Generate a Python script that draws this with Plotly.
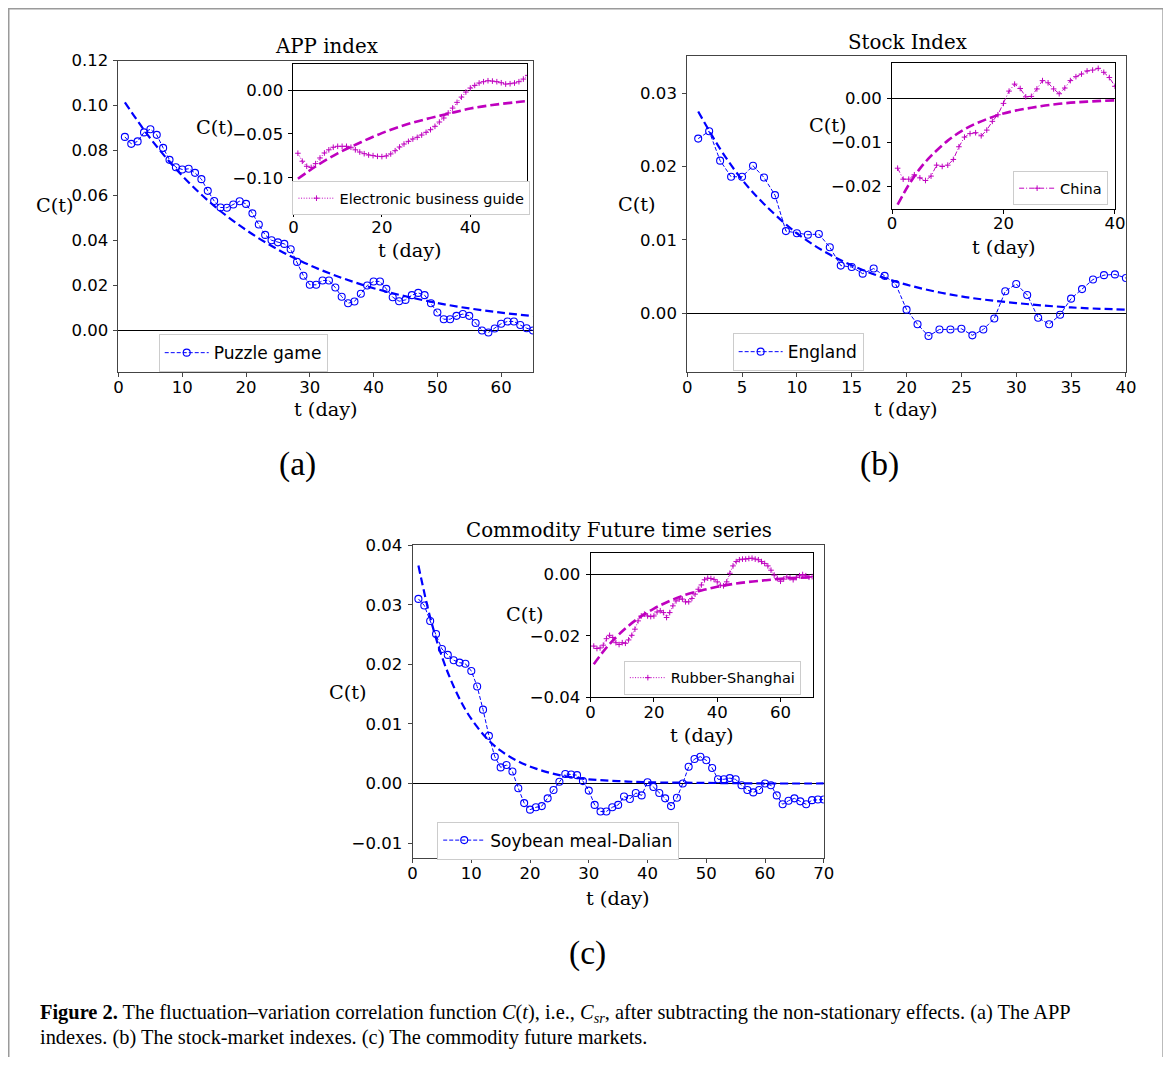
import plotly.graph_objects as go

# ---------------- data ----------------
t_a = list(range(1, 66))
puzzle_game = [0.0861, 0.0830, 0.0841, 0.0881, 0.0895, 0.0870, 0.0812, 0.0759, 0.0726, 0.0716,
               0.0719, 0.0701, 0.0673, 0.0621, 0.0576, 0.0547, 0.0546, 0.0560, 0.0575, 0.0563,
               0.0521, 0.0471, 0.0425, 0.0401, 0.0392, 0.0385, 0.0361, 0.0305, 0.0243, 0.0203,
               0.0203, 0.0222, 0.0222, 0.0191, 0.0150, 0.0121, 0.0129, 0.0163, 0.0200, 0.0218,
               0.0218, 0.0185, 0.0148, 0.0130, 0.0136, 0.0157, 0.0167, 0.0157, 0.0121, 0.0080,
               0.0050, 0.0050, 0.0065, 0.0073, 0.0065, 0.0033, 0.0000, -0.0009, 0.0009, 0.0030,
               0.0040, 0.0040, 0.0024, 0.0010, 0.0000]
fit_a_t = [1, 5, 10, 15, 20, 25, 30, 35, 40, 45, 50, 55, 60, 65]
fit_a = [0.1015, 0.0854, 0.0688, 0.0554, 0.0447, 0.0360, 0.0290, 0.0234, 0.0188, 0.0152,
         0.0122, 0.0098, 0.0079, 0.0064]

t_a_in = list(range(1, 54))
e_business = [-0.0719, -0.0810, -0.0867, -0.0880, -0.0837, -0.0773, -0.0716, -0.0680, -0.0651, -0.0640,
              -0.0640, -0.0640, -0.0651, -0.0680, -0.0705, -0.0724, -0.0739, -0.0746, -0.0754, -0.0757,
              -0.0750, -0.0727, -0.0690, -0.0648, -0.0614, -0.0584, -0.0557, -0.0538, -0.0512, -0.0481,
              -0.0451, -0.0413, -0.0364, -0.0318, -0.0261, -0.0205, -0.0140, -0.0080, -0.0023, 0.0023,
              0.0053, 0.0080, 0.0095, 0.0106, 0.0102, 0.0095, 0.0083, 0.0068, 0.0072, 0.0080,
              0.0095, 0.0125, 0.0167]
fit_a_in_t = [1, 5, 10, 15, 20, 25, 30, 35, 40, 45, 50, 53]
fit_a_in = [-0.101, -0.087, -0.072, -0.060, -0.049, -0.040, -0.033, -0.027, -0.021, -0.017, -0.014, -0.0125]

t_b = list(range(1, 41))
england = [0.0238, 0.0248, 0.0208, 0.0186, 0.0186, 0.0201, 0.0185, 0.0161, 0.0112, 0.0109,
           0.0107, 0.0108, 0.0090, 0.0065, 0.0063, 0.0054, 0.0061, 0.0051, 0.0040, 0.0005,
           -0.0015, -0.0031, -0.0022, -0.0022, -0.0021, -0.0030, -0.0022, -0.0007, 0.0030, 0.0040,
           0.0025, -0.0006, -0.0015, -0.0002, 0.0020, 0.0033, 0.0046, 0.0052, 0.0053, 0.0048]
fit_b_t = [1, 3, 5, 7, 10, 13, 16, 20, 25, 30, 35, 40]
fit_b = [0.0275, 0.0224, 0.0182, 0.0149, 0.0109, 0.0080, 0.0059, 0.0039, 0.0023, 0.0014, 0.0008, 0.0005]

china = [-0.0159, -0.0184, -0.0184, -0.0174, -0.0181, -0.0187, -0.0177, -0.0152, -0.0155, -0.0152,
         -0.0139, -0.0110, -0.0088, -0.0080, -0.0078, -0.0085, -0.0072, -0.0052, -0.0037, -0.0011,
         0.0017, 0.0033, 0.0023, 0.0004, 0.0005, 0.0022, 0.0041, 0.0036, 0.0022, 0.0011,
         0.0024, 0.0041, 0.0050, 0.0056, 0.0063, 0.0065, 0.0069, 0.0060, 0.0048, 0.0028]
fit_b_in = [-0.0242, -0.0197, -0.0160, -0.0131, -0.0096, -0.0070, -0.0052, -0.0034, -0.0021, -0.0012,
            -0.0007, -0.0004]

t_c = list(range(1, 71))
soybean = [0.0310, 0.0299, 0.0273, 0.0251, 0.0226, 0.0216, 0.0207, 0.0203, 0.0201, 0.0189,
           0.0163, 0.0124, 0.0080, 0.0045, 0.0027, 0.0031, 0.0020, -0.0008, -0.0033, -0.0044,
           -0.0040, -0.0038, -0.0025, -0.0011, 0.0003, 0.0016, 0.0015, 0.0014, 0.0004, -0.0012,
           -0.0036, -0.0047, -0.0047, -0.0040, -0.0036, -0.0022, -0.0026, -0.0016, -0.0020, 0.0002,
           -0.0006, -0.0016, -0.0025, -0.0038, -0.0024, 0.0000, 0.0028, 0.0041, 0.0045, 0.0039,
           0.0026, 0.0007, 0.0007, 0.0009, 0.0007, -0.0003, -0.0011, -0.0015, -0.0011, 0.0000,
           -0.0003, -0.0020, -0.0035, -0.0029, -0.0025, -0.0030, -0.0035, -0.0028, -0.0027, -0.0027]
fit_c_t = [1, 3, 5, 7, 9, 11, 13, 15, 18, 21, 25, 30, 35, 40, 50, 60, 70]
fit_c = [0.0366, 0.0279, 0.0213, 0.0163, 0.0124, 0.0095, 0.0072, 0.0055, 0.0037, 0.0025,
         0.0014, 0.0007, 0.0004, 0.0002, 0.0001, 0.0000, 0.0000]

rubber = [-0.0233, -0.0241, -0.0239, -0.0230, -0.0209, -0.0198, -0.0205, -0.0222, -0.0228, -0.0222,
          -0.0224, -0.0213, -0.0198, -0.0178, -0.0151, -0.0135, -0.0129, -0.0135, -0.0137, -0.0135,
          -0.0122, -0.0118, -0.0124, -0.0140, -0.0124, -0.0102, -0.0086, -0.0080, -0.0080, -0.0089,
          -0.0089, -0.0078, -0.0064, -0.0048, -0.0034, -0.0017, -0.0012, -0.0013, -0.0016, -0.0024,
          -0.0035, -0.0037, -0.0024, 0.0004, 0.0028, 0.0042, 0.0048, 0.0050, 0.0050, 0.0052,
          0.0053, 0.0050, 0.0048, 0.0042, 0.0036, 0.0028, 0.0014, -0.0002, -0.0013, -0.0022,
          -0.0015, -0.0008, -0.0011, -0.0017, -0.0010, -0.0004, 0.0000, -0.0004, -0.0009, -0.0007]
fit_c_in_t = [1, 5, 10, 15, 20, 25, 30, 35, 40, 45, 50, 55, 60, 65, 70]
fit_c_in = [-0.0292, -0.0238, -0.0185, -0.0143, -0.0111, -0.0086, -0.0066, -0.0052, -0.0040, -0.0031,
            -0.0024, -0.0019, -0.0014, -0.0011, -0.0009]

# tick labels
ya_vals = [0.00, 0.02, 0.04, 0.06, 0.08, 0.10, 0.12]
ya_text = ["0.00", "0.02", "0.04", "0.06", "0.08", "0.10", "0.12"]
xa_vals = [0, 10, 20, 30, 40, 50, 60]
ya_in_vals = [-0.10, -0.05, 0.00]
ya_in_text = ["\u22120.10", "\u22120.05", "0.00"]
x_in_vals = [0, 20, 40]
yb_vals = [0.00, 0.01, 0.02, 0.03]
yb_text = ["0.00", "0.01", "0.02", "0.03"]
xb_vals = [0, 5, 10, 15, 20, 25, 30, 35, 40]
yb_in_vals = [-0.02, -0.01, 0.00]
yb_in_text = ["\u22120.02", "\u22120.01", "0.00"]
yc_vals = [-0.01, 0.00, 0.01, 0.02, 0.03, 0.04]
yc_text = ["\u22120.01", "0.00", "0.01", "0.02", "0.03", "0.04"]
xc_vals = [0, 10, 20, 30, 40, 50, 60, 70]
yc_in_vals = [-0.04, -0.02, 0.00]
yc_in_text = ["\u22120.04", "\u22120.02", "0.00"]
xc_in_vals = [0, 20, 40, 60]

# ---------------- layout helpers ----------------
OFF = 8                      # default body margin of the page
W, H = 1171 - 2 * OFF, 1065 - 2 * OFF
# empirical mapping between page pixels and the photographed picture
SX, BX = 0.988, 4.1
SY, BY = 0.983, 7.7
FS = 1.0 / 0.985             # font compensation
BLUE = '#0000ff'
MAG = '#bf00bf'


def fx(p):
    return ((p - BX) / SX - OFF) / W


def fy(p):
    return 1 - ((p - BY) / SY - OFF) / H


def fs(s):
    return s * FS


fig = go.Figure()


def data_main(t, v, name, xa, ya, leg):
    fig.add_trace(go.Scatter(x=t, y=v, name=name, mode='lines+markers', xaxis=xa, yaxis=ya, legend=leg,
                             line=dict(color=BLUE, width=1, dash='4px,2px'),
                             marker=dict(symbol='circle-open', size=7, color=BLUE, line=dict(width=1.1))))


def fit_main(t, v, xa, ya):
    fig.add_trace(go.Scatter(x=t, y=v, mode='lines', xaxis=xa, yaxis=ya, showlegend=False,
                             line=dict(color=BLUE, width=2.2, dash='8px,4px', shape='spline')))


def data_in(t, v, name, xa, ya, leg, dash):
    fig.add_trace(go.Scatter(x=t, y=v, name=name, mode='lines+markers', xaxis=xa, yaxis=ya, legend=leg,
                             line=dict(color=MAG, width=1, dash=dash),
                             marker=dict(symbol='cross-thin', size=4, color=MAG, line=dict(width=1, color=MAG))))


def fit_in(t, v, xa, ya):
    fig.add_trace(go.Scatter(x=t, y=v, mode='lines', xaxis=xa, yaxis=ya, showlegend=False,
                             line=dict(color=MAG, width=2.6, dash='9px,4px', shape='spline')))


data_main(t_a, puzzle_game, 'Puzzle game', 'x', 'y', 'legend')
fit_main(fit_a_t, fit_a, 'x', 'y')
fit_in(fit_a_in_t, fit_a_in, 'x2', 'y2')
data_in(t_a_in, e_business, 'Electronic business guide', 'x2', 'y2', 'legend2', '1px,1.6px')

data_main(t_b, england, 'England', 'x3', 'y3', 'legend3')
fit_main(fit_b_t, fit_b, 'x3', 'y3')
fit_in(fit_b_t, fit_b_in, 'x4', 'y4')
data_in(t_b, china, 'China', 'x4', 'y4', 'legend4', '5px,2px,1px,2px')

data_main(t_c, soybean, 'Soybean meal-Dalian', 'x5', 'y5', 'legend5')
fit_main(fit_c_t, fit_c, 'x5', 'y5')
fit_in(fit_c_in_t, fit_c_in, 'x6', 'y6')
data_in(t_c, rubber, 'Rubber-Shanghai', 'x6', 'y6', 'legend6', '1px,1.6px')


def axis(domain, rng, vals, text, anchor, color, is_y):
    d = dict(domain=domain, range=rng, anchor=anchor, tickvals=vals, ticktext=text,
             showline=True, mirror=True, linecolor=color, linewidth=1,
             ticks='outside', ticklen=4, tickwidth=1, tickcolor=color, showgrid=False,
             tickfont=dict(family='DejaVu Sans', size=fs(16.3), color='black'), fixedrange=True)
    if is_y:
        d.update(zeroline=True, zerolinecolor='black', zerolinewidth=1, ticklabelstandoff=2)
    else:
        d.update(zeroline=False, ticklabelstandoff=-4)
    return d


MAINC = '#444444'
INC = '#000000'

layout = dict(
    width=W, height=H, margin=dict(l=0, r=0, t=0, b=0),
    paper_bgcolor='white', plot_bgcolor='rgba(0,0,0,0)', showlegend=True,
    xaxis=axis([fx(117.7), fx(533)], [0, 65], xa_vals, [str(v) for v in xa_vals], 'y', MAINC, False),
    yaxis=axis([fy(371), fy(59.3)], [-0.0185, 0.12], ya_vals, ya_text, 'x', MAINC, True),
    xaxis2=axis([fx(293), fx(527.3)], [0, 52.9], x_in_vals, [str(v) for v in x_in_vals], 'y2', INC, False),
    yaxis2=axis([fy(211), fy(62.3)], [-0.139, 0.030], ya_in_vals, ya_in_text, 'x2', INC, True),
    xaxis3=axis([fx(687.5), fx(1127)], [0, 40], xb_vals, [str(v) for v in xb_vals], 'y3', MAINC, False),
    yaxis3=axis([fy(371), fy(55)], [-0.0080, 0.0350], yb_vals, yb_text, 'x3', MAINC, True),
    xaxis4=axis([fx(892.7), fx(1116)], [0, 40], x_in_vals, [str(v) for v in x_in_vals], 'y4', INC, False),
    yaxis4=axis([fy(207.3), fy(61.7)], [-0.0251, 0.0081], yb_in_vals, yb_in_text, 'x4', INC, True),
    xaxis5=axis([fx(412.3), fx(824.3)], [0, 70], xc_vals, [str(v) for v in xc_vals], 'y5', MAINC, False),
    yaxis5=axis([fy(858), fy(544.5)], [-0.0126, 0.040], yc_vals, yc_text, 'x5', MAINC, True),
    xaxis6=axis([fx(590.7), fx(813.3)], [0, 70.2], xc_in_vals, [str(v) for v in xc_in_vals], 'y6', INC, False),
    yaxis6=axis([fy(696.7), fy(551.7)], [-0.040, 0.00715], yc_in_vals, yc_in_text, 'x6', INC, True),
)


def leg(x, y, size, iw):
    return dict(x=fx(x), y=fy(y), xanchor='left', yanchor='top', bgcolor='white',
                bordercolor='#cccccc', borderwidth=1, itemwidth=iw, tracegroupgap=0,
                font=dict(family='DejaVu Sans', size=fs(size), color='black'))


layout['legend'] = leg(158, 333, 16.8, 44)
layout['legend2'] = leg(292, 180, 14.3, 36)
layout['legend3'] = leg(733, 332, 16.8, 44)
layout['legend4'] = leg(1014, 170, 14.3, 36)
layout['legend5'] = leg(437, 821, 16.8, 42)
layout['legend6'] = leg(624, 660, 14.3, 36)

fig.update_layout(**layout)

SERIF = 'DejaVu Serif'


def text(x, y, s, size=19, family=SERIF, xanchor='center'):
    fig.add_annotation(x=fx(x), y=fy(y), xref='paper', yref='paper', text=s, showarrow=False,
                       xanchor=xanchor, yanchor='middle', font=dict(family=family, size=fs(size), color='black'))


# titles
text(326, 45, 'APP index', 19.5)
text(908, 41, 'Stock Index', 19.5)
text(619, 530, 'Commodity Future time series', 19.5)
# axis labels
text(54, 204, 'C(t)')
text(326, 409, 't (day)')
text(214, 126, 'C(t)')
text(410, 249, 't (day)')
text(829, 124, 'C(t)')
text(1005, 246, 't (day)')
text(637, 203, 'C(t)')
text(907, 409, 't (day)')
text(348, 692, 'C(t)')
text(618, 898, 't (day)')
text(525, 614, 'C(t)')
text(702, 735, 't (day)')
# panel letters
text(297, 463, '(a)', 33, 'Liberation Serif')
text(880, 463, '(b)', 33, 'Liberation Serif')
text(588, 953, '(c)', 33, 'Liberation Serif')
# caption
text(37, 1013, '<b>Figure 2.</b> The fluctuation\u2013variation correlation function <i>C</i>(<i>t</i>), i.e., '
               '<i>C<sub>sr</sub></i>, after subtracting the non-stationary effects. (a) The APP',
     20.1, 'Liberation Serif', 'left')
text(37, 1037, 'indexes. (b) The stock-market indexes. (c) The commodity future markets.',
     20.1, 'Liberation Serif', 'left')

# outer frame
fig.add_shape(type='rect', xref='paper', yref='paper', x0=fx(7.5), x1=fx(1164.5), y0=fy(1095), y1=fy(7),
              line=dict(color='#9a9a9a', width=2), fillcolor='rgba(0,0,0,0)', layer='above')

fig.write_html('out.html', config={'displayModeBar': False})
